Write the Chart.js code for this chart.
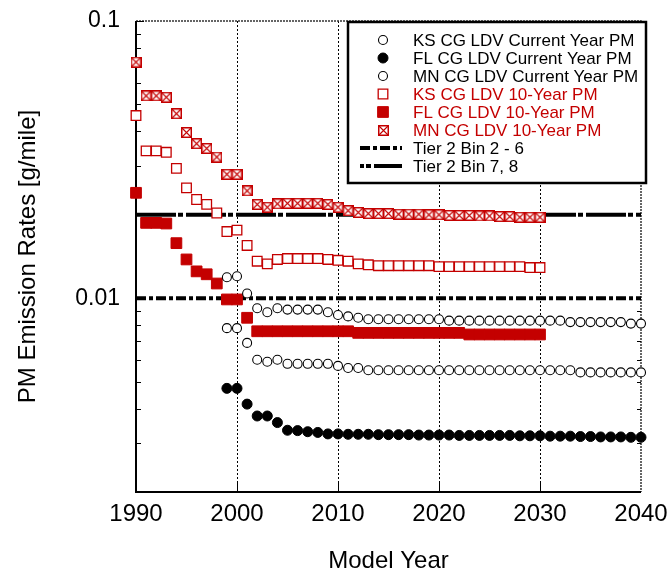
<!DOCTYPE html>
<html>
<head>
<meta charset="utf-8">
<title>PM Emission Rates</title>
<script src="https://cdn.jsdelivr.net/npm/chart.js@4.4.1/dist/chart.umd.min.js"></script>
<style>
  html, body { margin: 0; padding: 0; background: #fff; }
  #wrap { width: 672px; height: 575px; }
</style>
</head>
<body>
<div id="wrap"><canvas id="chart" width="672" height="575"></canvas></div>
<script>
const RED = "#c40000";
const FONT = "'Liberation Sans', Arial, sans-serif";

function range(from, to) {
  const out = [];
  for (let y = from; y <= to; y++) out.push(y);
  return out;
}

// model years for each group of series
const years10 = range(1990, 2030);
const yearsCurrent = range(1999, 2040);

// 10-year PM, g/mile
const ks10 = [
  0.0456, 0.0340, 0.0340, 0.0336, 0.0294, 0.0250, 0.0227, 0.0218, 0.0203, 0.0174,
  0.0176, 0.0155, 0.0136, 0.0133, 0.0138, 0.0139, 0.0139, 0.0139, 0.0139, 0.0138,
  0.0137, 0.0136, 0.0133, 0.0132, 0.0131, 0.0131, 0.0131, 0.0131, 0.0131, 0.0131,
  0.0130, 0.0130, 0.0130, 0.0130, 0.0130, 0.0130, 0.0130, 0.0130, 0.0130, 0.0129, 0.0129
];
const fl10 = [
  0.0240, 0.0187, 0.0187, 0.0186, 0.0158, 0.0138, 0.0125, 0.0122, 0.0113, 0.0099,
  0.0099, 0.0085, 0.0076, 0.0076, 0.0076, 0.0076, 0.0076, 0.0076, 0.0076, 0.0076,
  0.0076, 0.0076, 0.0075, 0.0075, 0.0075, 0.0075, 0.0075, 0.0075, 0.0075, 0.0075,
  0.0075, 0.0075, 0.0075, 0.0074, 0.0074, 0.0074, 0.0074, 0.0074, 0.0074, 0.0074, 0.0074
];
const mn10 = [
  0.0711, 0.0537, 0.0537, 0.0531, 0.0463, 0.0396, 0.0361, 0.0347, 0.0323, 0.0280,
  0.0280, 0.0244, 0.0218, 0.0213, 0.0219, 0.0220, 0.0220, 0.0220, 0.0220, 0.0218,
  0.0213, 0.0207, 0.0204, 0.0202, 0.0202, 0.0202, 0.0201, 0.0201, 0.0201, 0.0200,
  0.0200, 0.0199, 0.0199, 0.0199, 0.0198, 0.0198, 0.0197, 0.0197, 0.0196, 0.0196, 0.0196
];

// current year PM, g/mile
const ksCurrent = [
  0.0078, 0.0078, 0.0069, 0.0060, 0.0059, 0.0060, 0.0058, 0.0058, 0.0058, 0.0058, 0.0058,
  0.0057, 0.0056, 0.0056, 0.0055, 0.0055, 0.0055, 0.0055, 0.0055, 0.0055, 0.0055,
  0.0055, 0.0055, 0.0055, 0.0055, 0.0055, 0.0055, 0.0055, 0.0055, 0.0055, 0.0055,
  0.0055, 0.0055, 0.0055, 0.0055, 0.0054, 0.0054, 0.0054, 0.0054, 0.0054, 0.0054, 0.0054
];
const flCurrent = [
  0.00473, 0.00473, 0.00415, 0.00376, 0.00376, 0.00356, 0.00334, 0.00333, 0.00330, 0.00328, 0.00324,
  0.00324, 0.00323, 0.00323, 0.00323, 0.00322, 0.00322, 0.00322, 0.00322, 0.00321, 0.00321,
  0.00321, 0.00321, 0.00320, 0.00320, 0.00320, 0.00320, 0.00320, 0.00320, 0.00319, 0.00319,
  0.00319, 0.00318, 0.00318, 0.00318, 0.00317, 0.00317, 0.00316, 0.00316, 0.00316, 0.00315, 0.00315
];
const mnCurrent = [
  0.0119, 0.0120, 0.0104, 0.0092, 0.0089, 0.0092, 0.0091, 0.0091, 0.0091, 0.0091, 0.0089,
  0.0087, 0.0086, 0.0085, 0.0084, 0.0084, 0.0084, 0.0084, 0.0084, 0.0084, 0.0084,
  0.0084, 0.0083, 0.0083, 0.0083, 0.0083, 0.0083, 0.0083, 0.0083, 0.0083, 0.0083,
  0.0083, 0.0083, 0.0083, 0.0082, 0.0082, 0.0082, 0.0082, 0.0082, 0.0082, 0.0081, 0.0081
];

// Tier 2 standards, g/mile
const tierYears = [1990, 2040];
const tierBin26 = 0.01;
const tierBin78 = 0.02;

// axis ticks
const xRange = [1990, 2040];
const yTickValues = [
  0.002, 0.003, 0.004, 0.005, 0.006, 0.007, 0.008, 0.009,
  0.01, 0.02, 0.03, 0.04, 0.05, 0.06, 0.07, 0.08, 0.09, 0.1
];
const yTickLabels = { 0.01: "0.01", 0.1: "0.1" };

function points(xs, ys) {
  return xs.map((x, i) => ({ x, y: ys[i] }));
}

// open square with an X through it, white inside
function crossedSquare(size, color) {
  const c = document.createElement("canvas");
  c.width = size;
  c.height = size;
  const g = c.getContext("2d");
  const o = 0.75;
  g.fillStyle = "#fff";
  g.fillRect(o, o, size - 2 * o, size - 2 * o);
  g.strokeStyle = color;
  g.lineWidth = 1.5;
  g.strokeRect(o, o, size - 2 * o, size - 2 * o);
  g.lineWidth = 1.1;
  g.beginPath();
  g.moveTo(1, 1);
  g.lineTo(size - 1, size - 1);
  g.moveTo(size - 1, 1);
  g.lineTo(1, size - 1);
  g.stroke();
  return c;
}

function markers(label, xs, ys, style) {
  return Object.assign({
    label,
    data: points(xs, ys),
    showLine: false,
    clip: false,
    order: 0
  }, style);
}

function tierLine(label, value, dash, legendOffset) {
  return {
    label,
    data: points(tierYears, [value, value]),
    showLine: true,
    borderColor: "#000",
    borderWidth: 4,
    borderDash: dash,
    borderCapStyle: "butt",
    pointRadius: 0,
    clip: false,
    order: 10,
    labelColor: "#000",
    legendOffset
  };
}

const openCircle = {
  pointStyle: "circle", pointRadius: 4.5, pointBorderWidth: 1.1,
  pointBorderColor: "#000", pointBackgroundColor: "#fff", labelColor: "#000"
};
const filledCircle = {
  pointStyle: "circle", pointRadius: 5, pointBorderWidth: 1,
  pointBorderColor: "#000", pointBackgroundColor: "#000", labelColor: "#000"
};

const datasets = [
  markers("KS CG LDV Current Year PM", yearsCurrent, ksCurrent, openCircle),
  markers("FL CG LDV Current Year PM", yearsCurrent, flCurrent, filledCircle),
  markers("MN CG LDV Current Year PM", yearsCurrent, mnCurrent, openCircle),
  markers("KS CG LDV 10-Year PM", years10, ks10, {
    pointStyle: "rect", pointRadius: 6.8, pointBorderWidth: 1.3,
    pointBorderColor: RED, pointBackgroundColor: "#fff", labelColor: RED
  }),
  markers("FL CG LDV 10-Year PM", years10, fl10, {
    pointStyle: "rect", pointRadius: 7.6, pointBorderWidth: 1,
    pointBorderColor: RED, pointBackgroundColor: RED, labelColor: RED
  }),
  markers("MN CG LDV 10-Year PM", years10, mn10, {
    pointStyle: crossedSquare(11, RED), pointRadius: 6, labelColor: RED
  }),
  tierLine("Tier 2 Bin 2 - 6", tierBin26, [10, 3, 4, 3], 0),
  tierLine("Tier 2 Bin 7, 8", tierBin78, [40, 2, 5, 3], 36)
];

function drawMarker(ctx, ds, x, y) {
  const style = ds.pointStyle;
  if (style instanceof HTMLCanvasElement) {
    ctx.drawImage(style, Math.round(x - style.width / 2), Math.round(y - style.height / 2));
    return;
  }
  const r = ds.pointRadius;
  ctx.beginPath();
  if (style === "rect") {
    const h = Math.SQRT1_2 * r;
    ctx.rect(x - h, y - h, 2 * h, 2 * h);
  } else {
    ctx.arc(x, y, r, 0, Math.PI * 2);
  }
  ctx.fillStyle = ds.pointBackgroundColor;
  ctx.fill();
  ctx.lineWidth = ds.pointBorderWidth;
  ctx.strokeStyle = ds.pointBorderColor;
  ctx.stroke();
}

// axes box, dotted year grid and inward ticks
const framePlugin = {
  id: "frame",
  beforeDatasetsDraw(chart) {
    const { ctx, chartArea: a, scales: { x, y } } = chart;
    ctx.save();

    ctx.strokeStyle = "#000";
    ctx.lineWidth = 1;
    ctx.setLineDash([2, 2]);
    x.ticks.forEach(t => {
      if (t.value <= x.min || t.value >= x.max) return;
      const px = Math.round(x.getPixelForValue(t.value)) + 0.5;
      ctx.beginPath();
      ctx.moveTo(px, a.top);
      ctx.lineTo(px, a.bottom);
      ctx.stroke();
    });

    // top and right edges are dotted
    ctx.strokeStyle = "#333";
    ctx.lineWidth = 1.5;
    ctx.setLineDash([2, 1]);
    ctx.beginPath();
    ctx.moveTo(a.left, a.top);
    ctx.lineTo(a.right, a.top);
    ctx.lineTo(a.right, a.bottom);
    ctx.stroke();
    ctx.setLineDash([]);

    // inward ticks
    ctx.strokeStyle = "#000";
    ctx.lineWidth = 1;
    x.ticks.forEach(t => {
      if (t.value <= x.min || t.value >= x.max) return;
      const px = Math.round(x.getPixelForValue(t.value)) + 0.5;
      ctx.beginPath();
      ctx.moveTo(px, a.bottom);
      ctx.lineTo(px, a.bottom - 9);
      ctx.stroke();
    });
    y.ticks.forEach(t => {
      const py = Math.round(y.getPixelForValue(t.value)) + 0.5;
      const len = yTickLabels[t.value] ? 8 : 5;
      ctx.beginPath();
      ctx.moveTo(a.left, py);
      ctx.lineTo(a.left + len, py);
      ctx.moveTo(a.right, py);
      ctx.lineTo(a.right - 4, py);
      ctx.stroke();
    });

    // left and bottom edges solid
    ctx.lineWidth = 2;
    ctx.beginPath();
    ctx.moveTo(a.left, a.top);
    ctx.lineTo(a.left, a.bottom);
    ctx.lineTo(a.right, a.bottom);
    ctx.stroke();
    ctx.restore();
  },
  afterDraw(chart) {
    const { ctx, chartArea: a } = chart;
    ctx.save();

    // axis titles
    ctx.fillStyle = "#000";
    ctx.font = "24px " + FONT;
    ctx.textAlign = "center";
    ctx.textBaseline = "alphabetic";
    ctx.fillText("Model Year", (a.left + a.right) / 2, 568);
    ctx.save();
    ctx.translate(35, (a.top + a.bottom) / 2);
    ctx.rotate(-Math.PI / 2);
    ctx.fillText("PM Emission Rates [g/mile]", 0, 0);
    ctx.restore();

    // legend box
    const box = { left: 348, top: 22, right: 646, bottom: 183 };
    ctx.fillStyle = "#fff";
    ctx.fillRect(box.left, box.top, box.right - box.left, box.bottom - box.top);
    ctx.strokeStyle = "#000";
    ctx.lineWidth = 2.5;
    ctx.strokeRect(box.left, box.top, box.right - box.left, box.bottom - box.top);

    ctx.font = "17px " + FONT;
    ctx.textAlign = "left";
    ctx.textBaseline = "middle";
    chart.data.datasets.forEach((ds, i) => {
      const ry = 40 + 18 * i;
      if (ds.showLine) {
        ctx.strokeStyle = ds.borderColor;
        ctx.lineWidth = ds.borderWidth;
        ctx.setLineDash(ds.borderDash);
        ctx.lineDashOffset = ds.legendOffset;
        ctx.beginPath();
        ctx.moveTo(360, ry);
        ctx.lineTo(402, ry);
        ctx.stroke();
        ctx.setLineDash([]);
        ctx.lineDashOffset = 0;
      } else {
        drawMarker(ctx, ds, 383, ry);
      }
      ctx.fillStyle = ds.labelColor;
      ctx.fillText(ds.label, 413, ry + 1);
    });
    ctx.restore();
  }
};

document.addEventListener("DOMContentLoaded", () => {
  const ctx = document.getElementById("chart").getContext("2d");
  new Chart(ctx, {
    type: "scatter",
    data: { datasets },
    plugins: [framePlugin],
    options: {
      responsive: false,
      animation: false,
      events: [],
      layout: { autoPadding: false, padding: { top: 21, right: 31, left: 0, bottom: 0 } },
      plugins: {
        legend: { display: false },
        tooltip: { enabled: false }
      },
      scales: {
        x: {
          type: "linear",
          min: xRange[0],
          max: xRange[1],
          grid: { display: false, drawTicks: false },
          border: { display: false },
          ticks: {
            stepSize: 10,
            padding: 8,
            color: "#000",
            font: { family: FONT, size: 24 },
            maxRotation: 0,
            callback: v => String(v)
          },
          afterFit: scale => {
            scale.height = 83;
            scale.paddingLeft = 0;
            scale.paddingRight = 0;
          }
        },
        y: {
          type: "logarithmic",
          min: yTickValues[0],
          max: yTickValues[yTickValues.length - 1],
          grid: { display: false, drawTicks: false },
          border: { display: false },
          afterBuildTicks: scale => {
            scale.ticks = yTickValues.map(v => ({ value: v }));
          },
          ticks: {
            autoSkip: false,
            padding: 16,
            color: "#000",
            font: { family: FONT, size: 23 },
            callback: v => yTickLabels[v] || ""
          },
          afterFit: scale => {
            scale.width = 136;
            scale.paddingTop = 0;
            scale.paddingBottom = 0;
          }
        }
      }
    }
  });
});
</script>
</body>
</html>
